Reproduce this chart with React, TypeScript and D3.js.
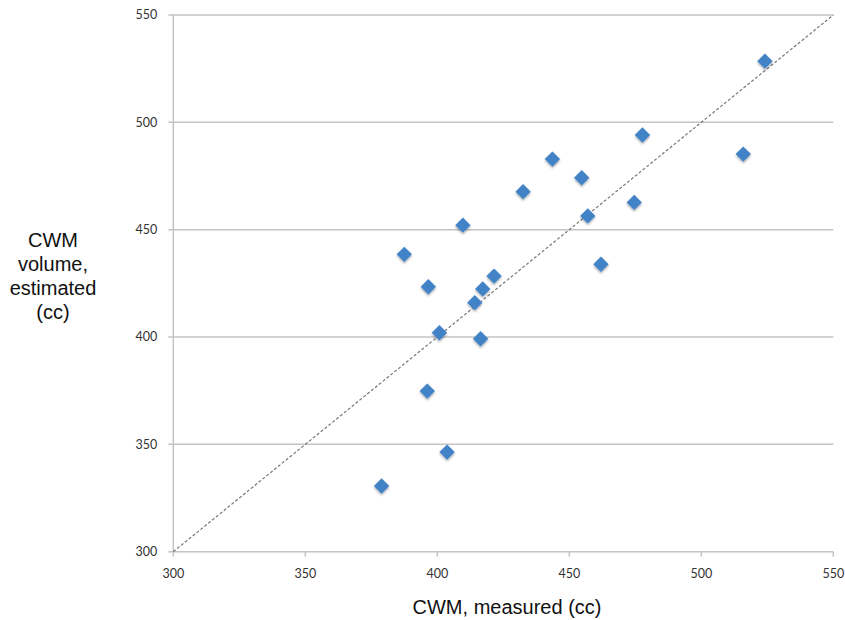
import React from 'react';
import * as d3 from 'd3';

// measured vs estimated CWM volume (cc)
const measured = [378.9, 387.5, 396.2, 396.6, 400.8, 403.7, 409.7, 414.2, 416.4, 417.2, 421.5, 432.5, 443.6, 454.7, 457.0, 462.0, 474.6, 477.7, 515.9, 524.1];
const estimated = [330.6, 438.5, 374.8, 423.4, 402.0, 346.4, 452.1, 416.0, 399.2, 422.4, 428.4, 467.7, 482.9, 474.2, 456.4, 433.9, 462.7, 494.1, 485.2, 528.5];
const xTicks = [300, 350, 400, 450, 500, 550];
const yTicks = [300, 350, 400, 450, 500, 550];
const yTitle = ['CWM', 'volume,', 'estimated', '(cc)'];
const xTitle = 'CWM, measured (cc)';

const W = 845;
const H = 620;
const margin = { left: 173.3, right: 11.7, top: 15, bottom: 68.3 };

const App = () => {
  const x = d3.scaleLinear().domain([300, 550]).range([margin.left, W - margin.right]);
  const y = d3.scaleLinear().domain([300, 550]).range([H - margin.bottom, margin.top]);

  const diamond = d3.symbol().type(d3.symbolDiamond2).size(150);
  const diag = d3.line<number>().x((d) => x(d)).y((d) => y(d));
  const tickFont = 'Lato, "Open Sans", sans-serif';

  return (
    <svg width={W} height={H} style={{ position: 'absolute', left: 0, top: 0, background: '#fff' }}>
      <defs>
        <filter id="shadow" x="-50%" y="-50%" width="200%" height="200%">
          <feDropShadow dx="0" dy="1.5" stdDeviation="1.2" floodColor="#000" floodOpacity="0.35" />
        </filter>
      </defs>

      {/* gridlines */}
      {yTicks.map((t) => (
        <g key={'g' + t}>
          <line x1={x(300) - 5} x2={x(550)} y1={y(t)} y2={y(t)} stroke="#c4c4c4" strokeWidth={1.5} />
          <text x={x(300) - 16} y={y(t)} dy="0.35em" textAnchor="end" fontSize={12.5} fill="#333" fontFamily={tickFont}>
            {t}
          </text>
        </g>
      ))}
      <line x1={x(300)} x2={x(300)} y1={y(550)} y2={y(300)} stroke="#c4c4c4" strokeWidth={1.5} />
      {xTicks.map((t) => (
        <g key={'x' + t}>
          <line x1={x(t)} x2={x(t)} y1={y(300)} y2={y(300) + 5} stroke="#c4c4c4" strokeWidth={1.5} />
          <text x={x(t)} y={y(300) + 22} dy="0.35em" textAnchor="middle" fontSize={12.5} fill="#333" fontFamily={tickFont}>
            {t}
          </text>
        </g>
      ))}

      {/* y = x reference */}
      <path d={diag([300, 550]) || ''} fill="none" stroke="#777" strokeWidth={1.2} strokeDasharray="3,2" />

      {measured.map((m, i) => (
        <path
          key={i}
          d={diamond() || ''}
          transform={`translate(${x(m)},${y(estimated[i])})`}
          fill="#4283c8"
          filter="url(#shadow)"
        />
      ))}

      <text x={507} y={607} dy="0.35em" textAnchor="middle" fontSize={20} fill="#111" fontFamily='"Liberation Sans", Arial, sans-serif'>
        {xTitle}
      </text>
      {yTitle.map((s, i) => (
        <text key={s} x={53} y={240 + i * 24} dy="0.35em" textAnchor="middle" fontSize={20} fill="#111" fontFamily='"Liberation Sans", Arial, sans-serif'>
          {s}
        </text>
      ))}
    </svg>
  );
};

export default App;
